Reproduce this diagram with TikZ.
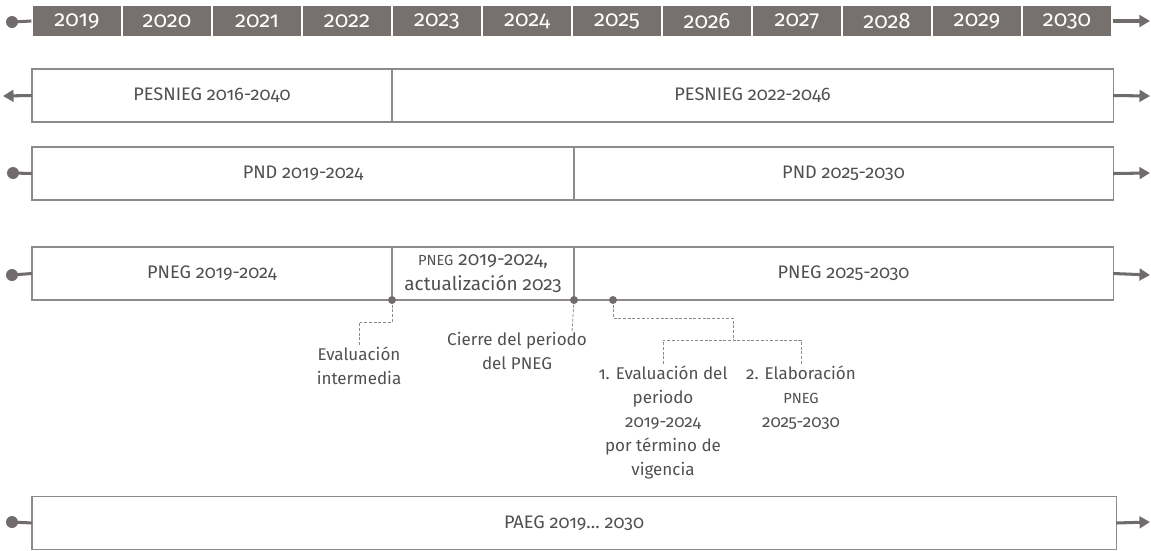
\documentclass[tikz,border=0pt]{standalone}
\usepackage{fontspec}
\setmainfont{Fira Sans}[Numbers=OldStyle]
\usetikzlibrary{positioning,arrows.meta}
\definecolor{yeargray}{HTML}{76716F}
\definecolor{linegray}{HTML}{8D8A89}
\definecolor{dotgray}{HTML}{706C6B}
\definecolor{textgray}{HTML}{505050}

\begin{document}
\begin{tikzpicture}[
        x=0.03cm, y=-0.03cm, % one unit is one pixel of the layout
        year/.style={fill=yeargray, draw=white, line width=1pt, text=white,
            minimum width=2.7cm, minimum height=0.96cm, inner sep=0pt,
            font=\fontsize{19}{21}\selectfont},
        plan/.style={draw=linegray, line width=0.9pt, inner sep=0pt, outer sep=0pt,
            minimum height=1.59cm, text=textgray, align=center,
            font=\fontsize{15.5}{18}\selectfont},
        note/.style={text=textgray, align=center, inner sep=1pt,
            font=\fontsize{14.5}{20.5}\selectfont},
        tail/.style={draw=dotgray, line width=2.6pt},
        ahead/.style={tail, -{Triangle[length=9pt,width=10pt]}},
        dot/.style={fill=dotgray},
        dashline/.style={draw=linegray, line width=0.7pt, dash pattern=on 2.5pt off 1.5pt},
    ]
    \useasboundingbox (0,0) rectangle (1151,550);

    % Years
    \foreach \yr [count=\i from 0] in {2019,...,2030}
        \node[year] (y\yr) at ({77+90*\i},21) {\yr};
    \coordinate (ystart) at (12,22);
    \coordinate (yend) at (1150,21);
    \draw[tail] (ystart) -- (y2019.west);
    \fill[dot] (ystart) circle (6);
    \draw[ahead] (y2030.east) -- (yend);

    % PESNIEG
    \node[plan, minimum width=10.8cm] (pes1) at (212,95.5) {PESNIEG 2016-2040};
    \node[plan, minimum width=21.63cm, right=0pt of pes1] (pes2) {PESNIEG 2022-2046};
    \coordinate (pesstart) at (3,96);
    \coordinate (pesend) at (1150,96);
    \draw[ahead] (pes1.west) -- (pesstart);
    \draw[ahead] (pes2.east) -- (pesend);

    % PND
    \node[plan, minimum width=16.26cm] (pnd1) at (303,173.5) {PND 2019-2024};
    \node[plan, minimum width=16.17cm, right=0pt of pnd1] (pnd2) {PND 2025-2030};
    \coordinate (pndstart) at (13,173);
    \coordinate (pndend) at (1150,173);
    \draw[tail] (pndstart) -- (pnd1.west);
    \fill[dot] (pndstart) circle (6);
    \draw[ahead] (pnd2.east) -- (pndend);

    % PNEG
    \node[plan, minimum width=10.8cm] (pneg1) at (212,273.5) {PNEG 2019-2024};
    \node[plan, minimum width=5.46cm, right=0pt of pneg1,
        font=\fontsize{16.2}{21}\selectfont] (pneg2)
        {{\fontsize{12.5}{15}\selectfont PNEG} 2019-2024,\\actualización 2023};
    \node[plan, minimum width=16.17cm, right=0pt of pneg2] (pneg3) {PNEG 2025-2030};
    \coordinate (pnegstart) at (12,275);
    \coordinate (pnegend) at (1150,275);
    \draw[tail] (pnegstart) -- (pneg1.west);
    \fill[dot] (pnegstart) circle (6);
    \draw[ahead] (pneg3.east) -- (pnegend);

    % Events
    \coordinate (d1) at (pneg1.south east);
    \coordinate (d2) at (pneg2.south east);
    \coordinate (d3) at (613,300);
    \coordinate (d2end) at (572,331);
    \coordinate (split) at (733,340);
    \node[note, anchor=north] (evint) at (359,345) {Evaluación\\intermedia};
    \node[note, anchor=north] (cierre) at (517,331) {Cierre del periodo\\del PNEG};
    \node[note, anchor=north] (evper) at (663,364) {1. Evaluación del\\periodo\\2019-2024\\por término de\\vigencia};
    \node[note, anchor=north] (elab) at (801,364) {2. Elaboración\\{\fontsize{12.5}{15}\selectfont PNEG}\\2025-2030};
    \draw[dashline] (d1) -- ++(0,22) -| (evint.north);
    \draw[dashline] (d2) -- (d2end);
    \draw[dashline] (d3) -- ++(0,18) -| (split);
    \draw[dashline] (evper.north) |- (split) -| (elab.north);
    \foreach \d in {d1,d2,d3}
        \fill[dot] (\d) circle (4);

    % PAEG
    \node[plan, minimum width=32.52cm] (paeg) at (574,523) {PAEG 2019\dots\ 2030};
    \coordinate (paegstart) at (12,522);
    \coordinate (paegend) at (1150,522);
    \draw[tail] (paegstart) -- (paeg.west);
    \fill[dot] (paegstart) circle (6);
    \draw[ahead] (paeg.east) -- (paegend);
\end{tikzpicture}
\end{document}
